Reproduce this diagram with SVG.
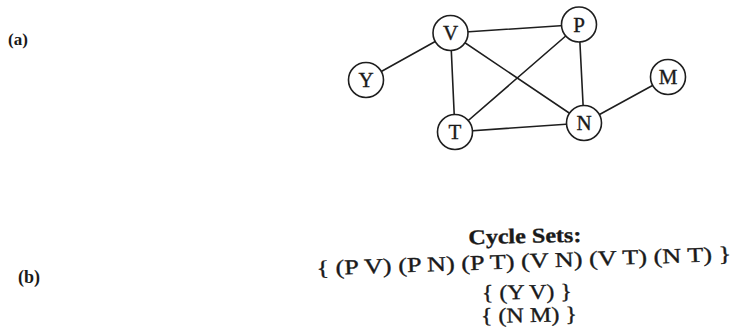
<svg xmlns="http://www.w3.org/2000/svg" width="736" height="334" viewBox="0 0 736 334">
<style>
.edge{stroke:#1e1e1e;stroke-width:1.6;fill:none;stroke-linecap:round}
.node circle{fill:#fff;stroke:#1e1e1e;stroke-width:1.6}
.node text{font-family:"Liberation Serif","Times New Roman",serif;font-size:21px;fill:#1a1a1a;stroke:#1a1a1a;stroke-width:0.35;text-anchor:middle}
.lbl{font-family:"Liberation Serif","Times New Roman",serif;font-weight:bold;fill:#1a1a1a}
.set{font-family:"Liberation Serif","Times New Roman",serif;font-size:21px;fill:#1a1a1a;stroke:#1a1a1a;stroke-width:0.35;text-anchor:middle}
</style>
<rect width="736" height="334" fill="#fff"/>
<text class="lbl" x="8" y="45" font-size="17">(a)</text>
<text class="lbl" x="18" y="283" font-size="18">(b)</text>
<g id="connectors">
<line class="edge" x1="450.5" y1="33" x2="579" y2="24.5"/>
<line class="edge" x1="450.5" y1="33" x2="366" y2="80"/>
<line class="edge" x1="450.5" y1="33" x2="455" y2="132"/>
<line class="edge" x1="450.5" y1="33" x2="584" y2="123"/>
<line class="edge" x1="579" y1="24.5" x2="455" y2="132"/>
<line class="edge" x1="579" y1="24.5" x2="584" y2="123"/>
<line class="edge" x1="455" y1="132" x2="584" y2="123"/>
<line class="edge" x1="584" y1="123" x2="668" y2="77"/>
</g>
<g id="node-V" class="node"><circle cx="450.5" cy="33" r="17.5"/><text x="450.5" y="40">V</text></g>
<g id="node-P" class="node"><circle cx="579" cy="24.5" r="17.5"/><text x="579" y="31.5">P</text></g>
<g id="node-Y" class="node"><circle cx="366" cy="80" r="17.5"/><text x="366" y="87">Y</text></g>
<g id="node-M" class="node"><circle cx="668" cy="77" r="17.5"/><text x="668" y="84">M</text></g>
<g id="node-T" class="node"><circle cx="455" cy="132" r="17.5"/><text x="455" y="139">T</text></g>
<g id="node-N" class="node"><circle cx="584" cy="123" r="17.5"/><text x="584" y="130">N</text></g>
<g id="cycle-sets">
<text class="set" x="525" y="243" font-weight="bold" textLength="113" lengthAdjust="spacingAndGlyphs" transform="rotate(-1.2 525 243)">Cycle Sets:</text>
<text class="set" x="524" y="268" textLength="415" lengthAdjust="spacingAndGlyphs" transform="rotate(-2 524 268)">{ (P V) (P N) (P T) (V N) (V T) (N T) }</text>
<text class="set" x="527" y="299" textLength="90" lengthAdjust="spacingAndGlyphs" transform="rotate(-1 527 299)">{ (Y V) }</text>
<text class="set" x="529" y="322" textLength="96" lengthAdjust="spacingAndGlyphs" transform="rotate(-1 529 322)">{ (N M) }</text>
</g>
</svg>
